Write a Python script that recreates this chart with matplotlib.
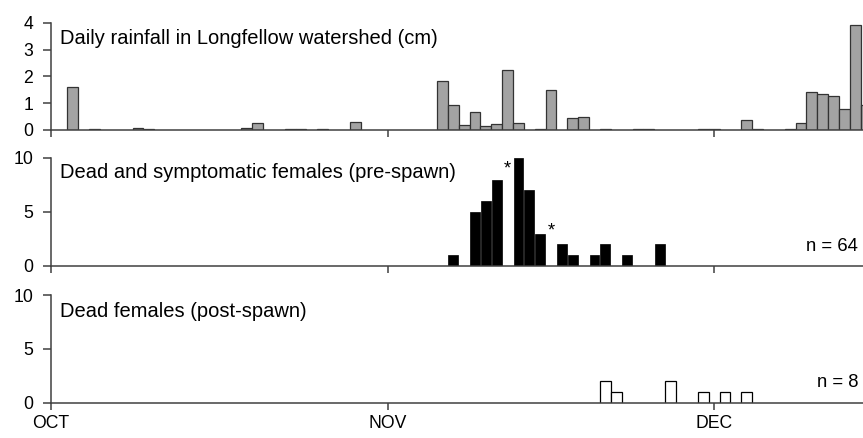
import matplotlib
matplotlib.use("Agg")
import matplotlib.pyplot as plt

plt.rcParams['font.family'] = ['Liberation Sans', 'DejaVu Sans']

# Day index: 0 = 1 October
rain_days = [2, 4, 8, 9, 18, 19, 22, 23, 25, 28,
             36, 37, 38, 39, 40, 41, 42, 43, 45, 46, 48, 49,
             51, 54, 55, 60, 61, 64, 65, 68, 69, 70, 71, 72, 73, 74, 75]
rain_cm = [1.59, 0.02, 0.09, 0.05, 0.08, 0.25, 0.02, 0.02, 0.02, 0.29,
           1.83, 0.94, 0.19, 0.67, 0.15, 0.22, 2.24, 0.26, 0.02, 1.49, 0.43, 0.50,
           0.02, 0.02, 0.02, 0.02, 0.02, 0.38, 0.02, 0.03, 0.26, 1.43, 1.33, 1.28, 0.77, 3.91, 0.93]

pre_days = [37, 39, 40, 41, 43, 44, 45, 47, 48, 50, 51, 53, 56]
pre_counts = [1, 5, 6, 8, 10, 7, 3, 2, 1, 1, 2, 1, 2]
star_days = [42, 46]
star_y = [9.0, 3.2]

post_days = [51, 52, 57, 60, 62, 64]
post_counts = [2, 1, 2, 1, 1, 1]

month_days = [0, 31, 61]
month_labels = ["OCT", "NOV", "DEC"]

titles = ["Daily rainfall in Longfellow watershed (cm)",
          "Dead and symptomatic females (pre-spawn)",
          "Dead females (post-spawn)"]
n_labels = ["", "n = 64", "n = 8"]

W, H = 863, 438
fig = plt.figure(figsize=(W / 100, H / 100), dpi=100)

x0 = 51 / W
panels = [(22.7, 130.0), (158.0, 266.0), (295.0, 402.5)]
axes = []
for top, bot in panels:
    ax = fig.add_axes([x0, 1 - bot / H, 1 - x0, (bot - top) / H])
    axes.append(ax)

axc = "#404040"
FS_TICK = 12.7
FS_TITLE = 14.5
FS_N = 13.3
for i, ax in enumerate(axes):
    ax.set_xlim(0, 74.7)
    for s in ["top", "right"]:
        ax.spines[s].set_visible(False)
    for s in ["left", "bottom"]:
        ax.spines[s].set_color(axc)
        ax.spines[s].set_linewidth(1.1)
    ax.set_xticks(month_days)
    ax.tick_params(axis="both", direction="out", color=axc, width=1.1, labelsize=FS_TICK)
    ax.tick_params(axis="y", length=5.8, pad=7)
    ax.tick_params(axis="x", length=5, pad=4)
    if i < 2:
        ax.set_xticklabels([])
    else:
        ax.set_xticklabels(month_labels)

ax = axes[0]
ax.bar(rain_days, rain_cm, width=1.0, color="#a3a3a3", edgecolor="#333333", linewidth=0.9)
ax.set_ylim(0, 4)
ax.set_yticks([0, 1, 2, 3, 4])

ax = axes[1]
ax.bar(pre_days, pre_counts, width=0.9, color="black", edgecolor="black", linewidth=0.5)
ax.set_ylim(0, 10)
ax.set_yticks([0, 5, 10])
for d, y in zip(star_days, star_y):
    ax.text(d, y, "*", ha="center", va="center", fontsize=FS_N)

ax = axes[2]
ax.bar(post_days, post_counts, width=1.0, color="white", edgecolor="black", linewidth=0.9)
ax.set_ylim(0, 10)
ax.set_yticks([0, 5, 10])

title_y = [38.5, 172.7, 311.7]
n_y = [0, 246.7, 382.7]
for i, ax in enumerate(axes):
    fig.text(60 / W, 1 - title_y[i] / H, titles[i], ha="left", va="center", fontsize=FS_TITLE)
    if n_labels[i]:
        fig.text(858 / W, 1 - n_y[i] / H, n_labels[i], ha="right", va="center", fontsize=FS_N)

fig.savefig("out.png", dpi=100)
